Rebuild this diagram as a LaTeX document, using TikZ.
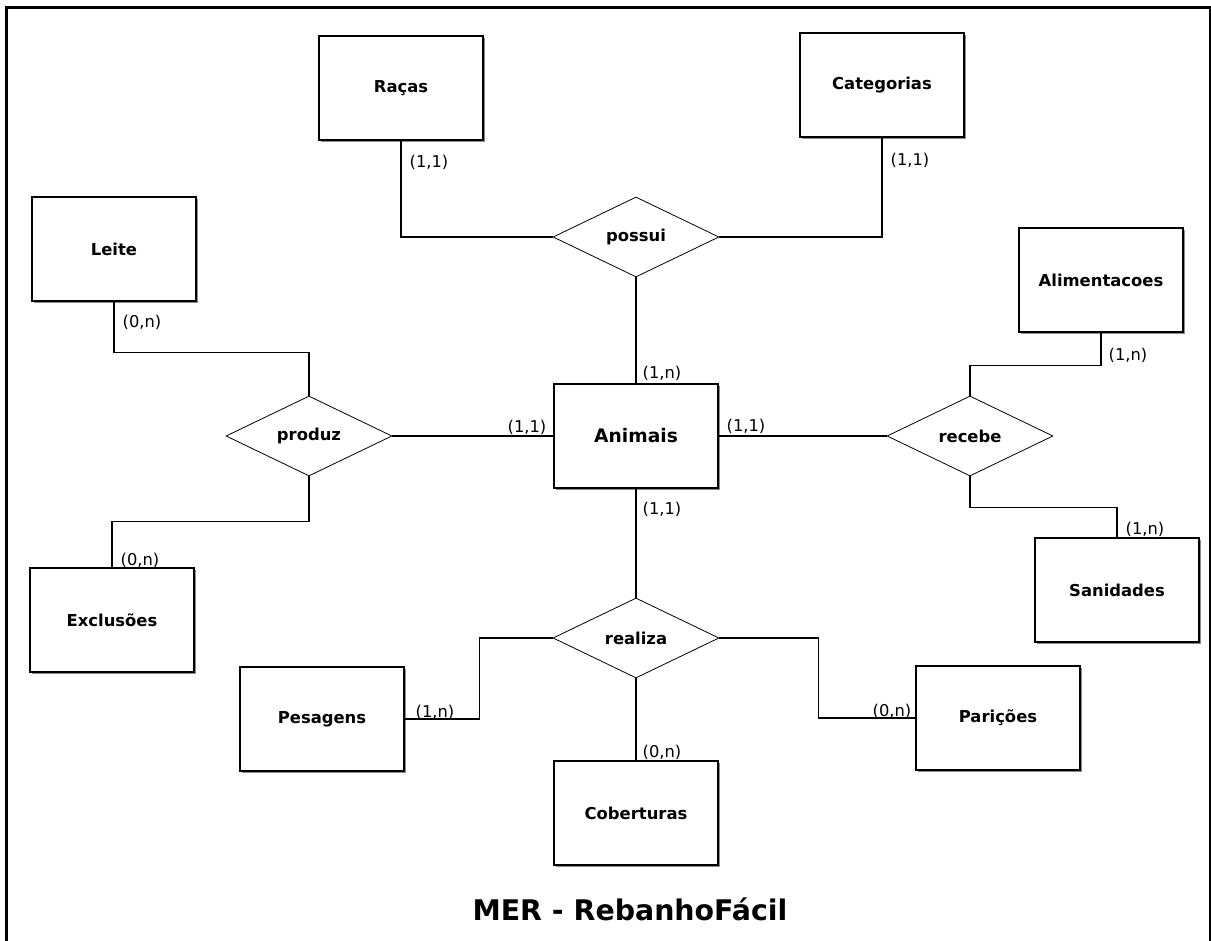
\documentclass[tikz,border=0pt]{standalone}
\usepackage{fontspec}
\setmainfont{DejaVu Sans}
\usepackage{tikz}
\usetikzlibrary{shapes.geometric, arrows, positioning, shadows}
\tikzstyle{link}     = [line width=0.9pt]
\tikzset{every node/.style={align=center}}

\begin{document}
\begin{tikzpicture}[
    x=0.75pt, y=-0.75pt,
    entity/.style={draw, line width=1.1pt, fill=white, minimum width=123pt, minimum height=78pt,
                   font=\fontsize{12.3}{14}\selectfont\bfseries,
                   drop shadow={shadow xshift=1.2pt, shadow yshift=-1.2pt, opacity=0.45, fill=black}},
    rel/.style={draw, diamond, aspect=2, inner sep=1pt, line width=0.6pt, fill=white,
                minimum width=124.5pt, minimum height=60pt, font=\fontsize{12.3}{14}\selectfont\bfseries},
    card/.style={font=\fontsize{12.2}{14}\selectfont, inner sep=0pt}
]
  \useasboundingbox (0,0) rectangle (1211,941);
  % Frame
  \draw[line width=2.25pt] (6.5,941) -- (6.5,7.2) -- (1210,7.2) -- (1210,941);
  % Entities
  \node (RAC) at (401, 88)  [entity] {Raças};
  \node (CAT) at (882, 85)  [entity] {Categorias};
  \node (LEI) at (114, 249) [entity] {Leite};
  \node (ALI) at (1101,280) [entity] {Alimentacoes};
  \node (ANI) at (636, 436) [entity, font=\fontsize{14}{16}\selectfont\bfseries] {Animais};
  \node (EXC) at (112, 620) [entity] {Exclusões};
  \node (SAN) at (1117,590) [entity] {Sanidades};
  \node (PES) at (322, 719) [entity] {Pesagens};
  \node (PAR) at (998, 718) [entity] {Parições};
  \node (COB) at (636, 813) [entity] {Coberturas};
  % Relationships
  \node (POS) at (636, 237) [rel] {possui};
  \node (PRO) at (309, 436) [rel] {produz};
  \node (REC) at (970, 436) [rel] {recebe};
  \node (REA) at (636, 638) [rel] {realiza};
  % Connectors
  \draw[link] (RAC.south) |- (POS.west);
  \draw[link] (CAT.south) |- (POS.east);
  \draw[link] (POS.south) -- (ANI.north);
  \draw[link] (LEI.south) -- ++(0,51) -| (PRO.north);
  \draw[link] (PRO.east)  -- (ANI.west);
  \draw[link] (PRO.south) -- ++(0,45) -| (EXC.north);
  \draw[link] (ANI.east)  -- (REC.west);
  \draw[link] (REC.north) -- ++(0,-30) -| (ALI.south);
  \draw[link] (REC.south) -- ++(0,31) -| (SAN.north);
  \draw[link] (ANI.south) -- (REA.north);
  \draw[link] (REA.west)  -- ++(-73,0) |- (PES.east);
  \draw[link] (REA.east)  -- ++(99,0) |- (PAR.west);
  \draw[link] (REA.south) -- (COB.north);
  % Cardinalities
  \node (cRAC)  at (429, 162) [card] {(1,1)};
  \node (cCAT)  at (910, 160) [card] {(1,1)};
  \node (cANIn) at (662, 373) [card] {(1,n)};
  \node (cLEI)  at (142, 322) [card] {(0,n)};
  \node (cANIw) at (527, 427) [card] {(1,1)};
  \node (cANIe) at (746, 426) [card] {(1,1)};
  \node (cALI)  at (1128,355) [card] {(1,n)};
  \node (cEXC)  at (140, 560) [card] {(0,n)};
  \node (cSAN)  at (1145,529) [card] {(1,n)};
  \node (cANIs) at (662, 509) [card] {(1,1)};
  \node (cPES)  at (435, 712) [card] {(1,n)};
  \node (cPAR)  at (892, 711) [card] {(0,n)};
  \node (cCOB)  at (662, 752) [card] {(0,n)};
  % Title
  \node (TIT) at (630, 920) [anchor=base, font=\fontsize{21.3}{24}\selectfont\bfseries] {MER - RebanhoFácil};
\end{tikzpicture}
\end{document}
